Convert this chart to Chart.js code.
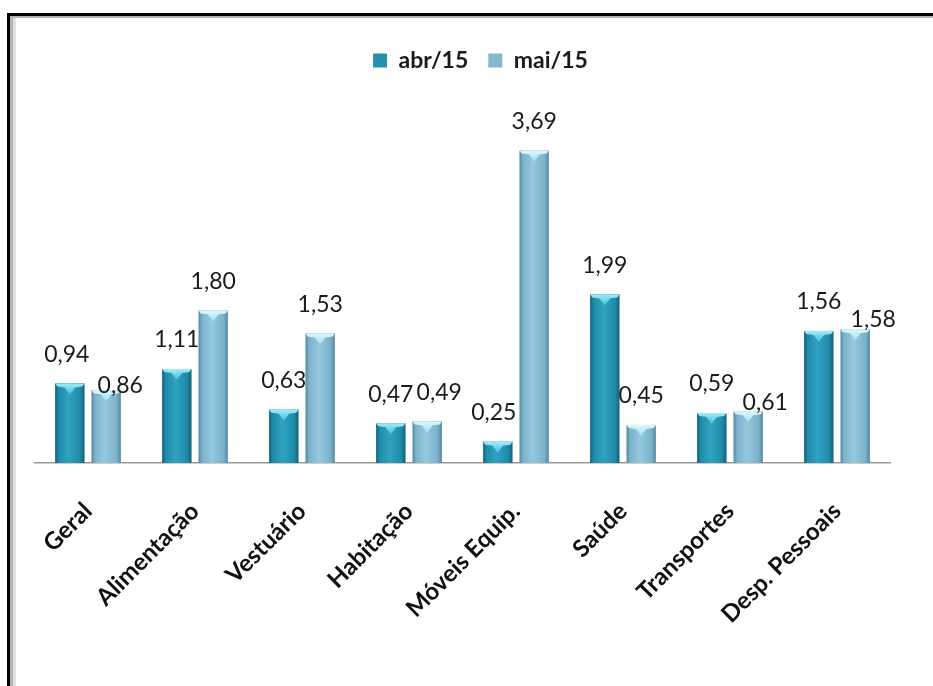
<!DOCTYPE html>
<html>
<head>
<meta charset="utf-8">
<script src="https://cdn.jsdelivr.net/npm/chart.js@4/dist/chart.umd.min.js"></script>
<style>
  html, body { margin: 0; padding: 0; background: #fff; }
  #wrap { width: 933px; height: 686px; position: relative; }
</style>
</head>
<body>
<div id="wrap"><canvas id="c" width="933" height="686"></canvas></div>
<script>
// Variação mensal por grupo de despesa (%)
const categories = ['Geral', 'Alimentação', 'Vestuário', 'Habitação', 'Móveis Equip.', 'Saúde', 'Transportes', 'Desp. Pessoais'];
const seriesNames = ['abr/15', 'mai/15'];
const abr15 = [0.94, 1.11, 0.63, 0.47, 0.25, 1.99, 0.59, 1.56];
const mai15 = [0.86, 1.80, 1.53, 0.49, 3.69, 0.45, 0.61, 1.58];

const FONT = 'Lato, "Open Sans", sans-serif';

// Shading palettes for the two series (edge, body, highlight, cap top, cap bottom)
const palettes = [
  { edge: '#14627a', body: '#218ba9', hi: '#2ea3c1', capTop: '#a2ecf8', capBot: '#45bcd6' },
  { edge: '#5789a4', body: '#7cb2cb', hi: '#96c9df', capTop: '#def8fd', capBot: '#a6dcee' }
];

// Value labels that sit beside their bar instead of straight above it
const labelShift = {
  '0-0': [-3, 0], '0-4': [-4, 0],
  '1-0': [14, 24], '1-3': [12, 0], '1-6': [17, 20], '1-7': [18, 19]
};

const fmt = v => v.toFixed(2).replace('.', ',');

// Outer frame: thick dark line top/left with a soft grey inner edge
const framePlugin = {
  id: 'frame',
  beforeDraw(chart) {
    const { ctx, width, height } = chart;
    ctx.save();
    ctx.fillStyle = '#ffffff';
    ctx.fillRect(0, 0, width, height);
    ctx.fillStyle = '#000000';
    ctx.fillRect(7, 13, width, 3);
    ctx.fillRect(7, 13, 3, height);
    ctx.fillStyle = '#b4b4b4';
    ctx.fillRect(10, 16, 3, height);
    ctx.fillRect(10, 16, width, 2);
    ctx.fillStyle = '#e2e2e2';
    ctx.fillRect(13, 18, 3, height);
    ctx.restore();
  }
};

// Move the legend a little to the right of the plot centre
const legendShiftPlugin = {
  id: 'legendShift',
  afterLayout(chart) {
    const lg = chart.legend;
    if (lg) { lg.left += 18; lg.right += 18; }
  }
};

// Bevelled bar look plus value labels
const barDecorPlugin = {
  id: 'barDecor',
  afterDatasetsDraw(chart) {
    const ctx = chart.ctx;
    chart.data.datasets.forEach((ds, di) => {
      const meta = chart.getDatasetMeta(di);
      const pal = palettes[di];
      meta.data.forEach((el, i) => {
        const { x, y, base, width } = el.getProps(['x', 'y', 'base', 'width'], true);
        const L = x - width / 2, R = x + width / 2, T = y, B = base;
        ctx.save();
        const g = ctx.createLinearGradient(L, 0, R, 0);
        g.addColorStop(0, pal.edge);
        g.addColorStop(0.12, pal.body);
        g.addColorStop(0.45, pal.hi);
        g.addColorStop(0.85, pal.body);
        g.addColorStop(1, pal.edge);
        ctx.fillStyle = g;
        ctx.fillRect(L, T, R - L, B - T);
        // top cap
        const cap = ctx.createLinearGradient(0, T, 0, T + 11);
        cap.addColorStop(0, pal.capTop);
        cap.addColorStop(1, pal.capBot);
        ctx.fillStyle = cap;
        ctx.beginPath();
        ctx.moveTo(L, T);
        ctx.lineTo(R, T);
        ctx.lineTo(R - 2, T + 3);
        ctx.lineTo(x + width * 0.18, T + 4);
        ctx.lineTo(x, T + 11);
        ctx.lineTo(x - width * 0.18, T + 4);
        ctx.lineTo(L + 2, T + 3);
        ctx.closePath();
        ctx.fill();
        ctx.restore();

        // value label
        const sh = labelShift[di + '-' + i] || [0, 0];
        ctx.save();
        ctx.font = '23px ' + FONT;
        ctx.fillStyle = '#1a1a1a';
        ctx.textAlign = 'center';
        ctx.textBaseline = 'middle';
        ctx.fillText(fmt(ds.data[i]), x + sh[0], T - 29 + sh[1]);
        ctx.restore();
      });
    });
  }
};

new Chart(document.getElementById('c'), {
  type: 'bar',
  data: {
    labels: categories,
    datasets: [
      { label: seriesNames[0], data: abr15, backgroundColor: '#2690ad', borderWidth: 0 },
      { label: seriesNames[1], data: mai15, backgroundColor: '#84b8cf', borderWidth: 0 }
    ]
  },
  options: {
    responsive: false,
    animation: false,
    devicePixelRatio: 1,
    categoryPercentage: 0.68,
    barPercentage: 0.8,
    layout: { padding: { left: 34.5, right: 42.5, top: 29, bottom: 0 } },
    plugins: {
      legend: {
        position: 'top',
        labels: {
          boxWidth: 14,
          boxHeight: 14,
          padding: 20,
          color: '#1a1a1a',
          font: { family: FONT, size: 23, weight: 'bold' }
        }
      },
      tooltip: { enabled: false }
    },
    scales: {
      x: {
        grid: { display: false },
        border: { display: true, color: '#9a9a9a', width: 1.5 },
        ticks: {
          color: '#111111',
          minRotation: 45,
          maxRotation: 45,
          padding: 26,
          font: { family: FONT, size: 24, weight: 'bold' }
        },
        afterFit(scale) { scale.height = 223; }
      },
      y: {
        display: false,
        min: 0,
        max: 4.5
      }
    }
  },
  plugins: [framePlugin, legendShiftPlugin, barDecorPlugin]
});
</script>
</body>
</html>
